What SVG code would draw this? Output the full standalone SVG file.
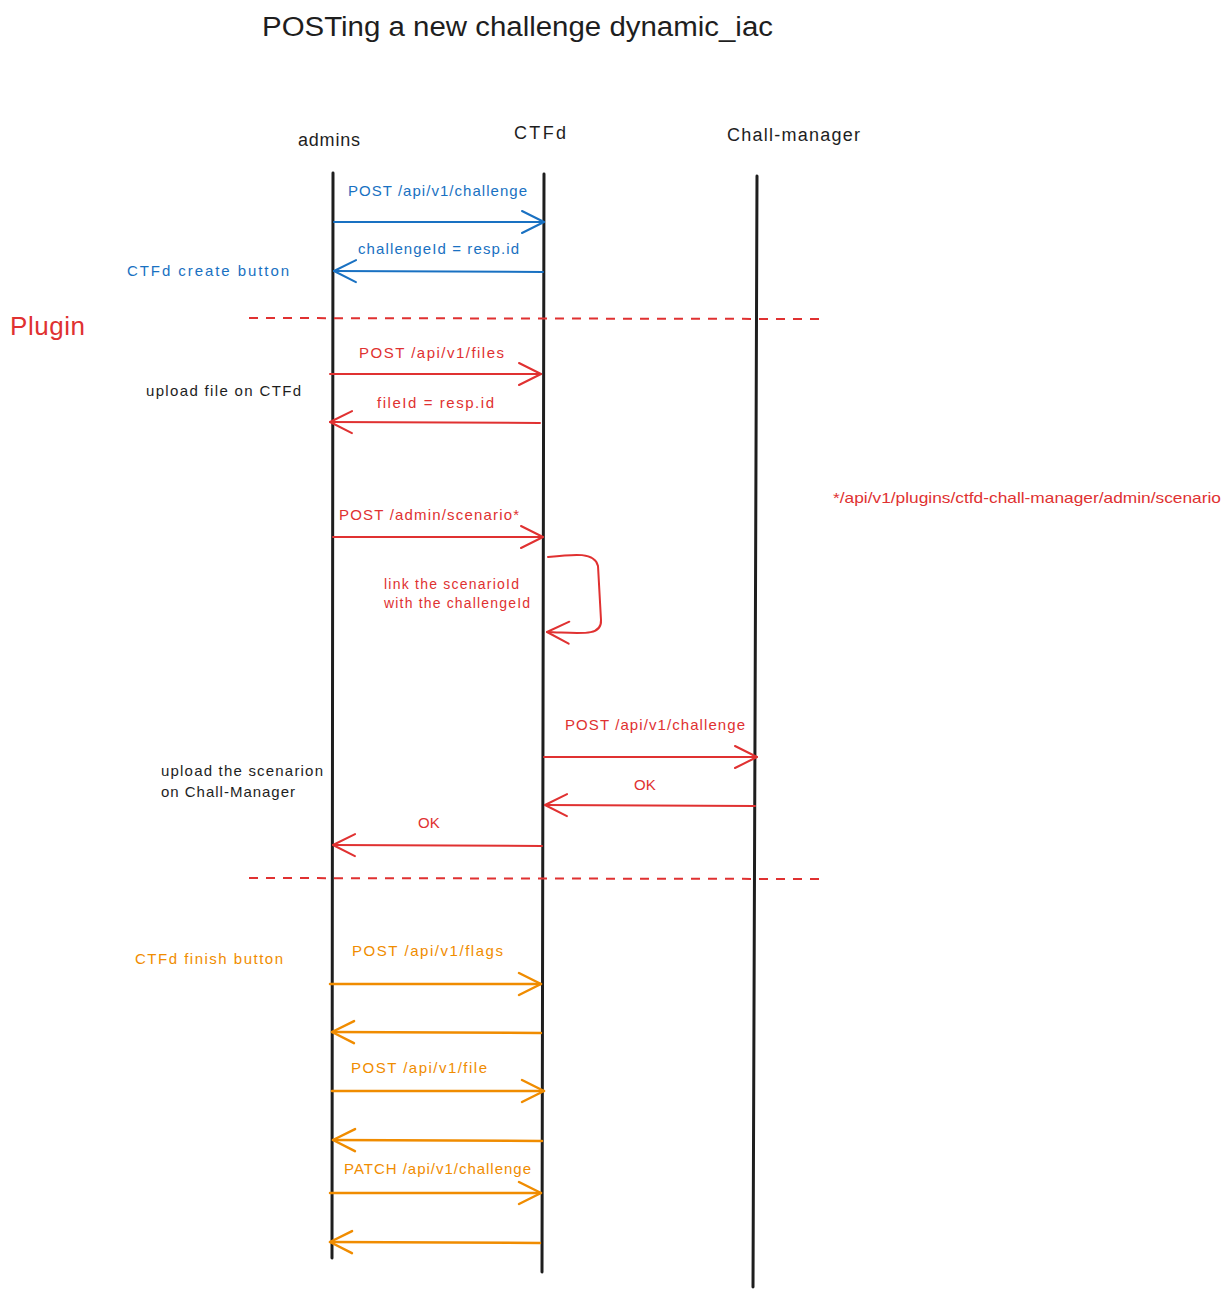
<svg xmlns="http://www.w3.org/2000/svg" width="1231" height="1297" viewBox="0 0 1231 1297">
<style>
text{font-family:"Liberation Sans","DejaVu Sans",sans-serif}
.t{font-size:27px;fill:#1e1e1e}
.actor{font-size:18px;fill:#1e1e1e}
.note{font-size:15px;fill:#1e1e1e}
.lbl{font-size:15px}
.blue{fill:#1971c2}
.red{fill:#e03131}
.orange{fill:#f08c00}
.life{stroke:#1e1e1e;stroke-width:3;fill:none;stroke-linecap:round}
.sb{stroke:#1971c2;stroke-width:2;fill:none;stroke-linecap:round}
.sr{stroke:#e03131;stroke-width:2;fill:none;stroke-linecap:round}
.so{stroke:#f08c00;stroke-width:2.5;fill:none;stroke-linecap:round}
.dash{stroke:#e03131;stroke-width:2;stroke-dasharray:9 8;fill:none}
</style>
<defs>
<marker id="ab" markerUnits="userSpaceOnUse" orient="auto" markerWidth="30" markerHeight="30" refX="0" refY="0" viewBox="-25 -15 30 30" overflow="visible"><path d="M-22,-11 L0,0 L-22,11" fill="none" stroke="#1971c2" stroke-width="2" stroke-linecap="round" stroke-linejoin="round"/></marker>
<marker id="ar" markerUnits="userSpaceOnUse" orient="auto" markerWidth="30" markerHeight="30" refX="0" refY="0" viewBox="-25 -15 30 30" overflow="visible"><path d="M-22,-11 L0,0 L-22,11" fill="none" stroke="#e03131" stroke-width="2" stroke-linecap="round" stroke-linejoin="round"/></marker>
<marker id="ao" markerUnits="userSpaceOnUse" orient="auto" markerWidth="30" markerHeight="30" refX="0" refY="0" viewBox="-25 -15 30 30" overflow="visible"><path d="M-22,-11 L0,0 L-22,11" fill="none" stroke="#f08c00" stroke-width="2.5" stroke-linecap="round" stroke-linejoin="round"/></marker>
</defs>

<g id="title"><text class="t" x="262" y="36" textLength="511" lengthAdjust="spacingAndGlyphs">POSTing a new challenge dynamic_iac</text></g>

<g id="admins">
<text class="actor" x="298" y="146" textLength="62">admins</text>
<line class="life" x1="333" y1="173" x2="332" y2="1258"/>
</g>
<g id="ctfd">
<text class="actor" x="514" y="139" textLength="52">CTFd</text>
<line class="life" x1="544" y1="174" x2="542" y2="1272"/>
</g>
<g id="chall-manager">
<text class="actor" x="727" y="141" textLength="133">Chall-manager</text>
<line class="life" x1="757" y1="176" x2="753" y2="1287"/>
</g>

<g id="notes">
<text class="note blue" x="127" y="276" textLength="162">CTFd create button</text>
<text class="red" x="10" y="335" style="font-size:26px" textLength="75">Plugin</text>
<text class="note" x="146" y="396" textLength="155">upload file on CTFd</text>
<text class="lbl red" x="833" y="503" textLength="388" lengthAdjust="spacingAndGlyphs">*/api/v1/plugins/ctfd-chall-manager/admin/scenario</text>
<text class="lbl red" x="384" y="589" style="font-size:14px" textLength="135">link the scenarioId</text>
<text class="lbl red" x="384" y="608" style="font-size:14px" textLength="146">with the challengeId</text>
<text class="note" x="161" y="776" textLength="162">upload the scenarion</text>
<text class="note" x="161" y="797" textLength="134">on Chall-Manager</text>
<text class="note orange" x="135" y="964" textLength="148">CTFd finish button</text>
</g>

<g id="connectors">
<line class="dash" x1="249" y1="318" x2="820" y2="319"/>
<line class="dash" x1="249" y1="878" x2="820" y2="879"/>

<line class="sb" x1="334" y1="222" x2="544" y2="222" marker-end="url(#ab)"/>
<text class="lbl blue" x="348" y="196" textLength="179">POST /api/v1/challenge</text>
<line class="sb" x1="543" y1="272" x2="334" y2="271" marker-end="url(#ab)"/>
<text class="lbl blue" x="358" y="254" textLength="161">challengeId = resp.id</text>

<line class="sr" x1="330" y1="374" x2="541" y2="374" marker-end="url(#ar)"/>
<text class="lbl red" x="359" y="358" textLength="145">POST /api/v1/files</text>
<line class="sr" x1="540" y1="423" x2="330" y2="422" marker-end="url(#ar)"/>
<text class="lbl red" x="377" y="408" textLength="117">fileId = resp.id</text>

<line class="sr" x1="333" y1="537" x2="543" y2="537" marker-end="url(#ar)"/>
<text class="lbl red" x="339" y="520" textLength="180">POST /admin/scenario*</text>
<path class="sr" d="M548,557 C575,554 595,552 598,566 L601,620 C602,637 580,633 547,632" marker-end="url(#ar)"/>

<line class="sr" x1="544" y1="757" x2="757" y2="757" marker-end="url(#ar)"/>
<text class="lbl red" x="565" y="730" textLength="180">POST /api/v1/challenge</text>
<line class="sr" x1="755" y1="806" x2="545" y2="805" marker-end="url(#ar)"/>
<text class="lbl red" x="634" y="790">OK</text>
<line class="sr" x1="542" y1="846" x2="333" y2="845" marker-end="url(#ar)"/>
<text class="lbl red" x="418" y="828">OK</text>

<line class="so" x1="330" y1="984" x2="541" y2="984" marker-end="url(#ao)"/>
<text class="lbl orange" x="352" y="956" textLength="151">POST /api/v1/flags</text>
<line class="so" x1="541" y1="1033" x2="332" y2="1032" marker-end="url(#ao)"/>
<line class="so" x1="332" y1="1091" x2="544" y2="1091" marker-end="url(#ao)"/>
<text class="lbl orange" x="351" y="1073" textLength="136">POST /api/v1/file</text>
<line class="so" x1="542" y1="1141" x2="333" y2="1140" marker-end="url(#ao)"/>
<line class="so" x1="330" y1="1193" x2="541" y2="1193" marker-end="url(#ao)"/>
<text class="lbl orange" x="344" y="1174" textLength="187">PATCH /api/v1/challenge</text>
<line class="so" x1="540" y1="1243" x2="330" y2="1242" marker-end="url(#ao)"/>
</g>
</svg>
